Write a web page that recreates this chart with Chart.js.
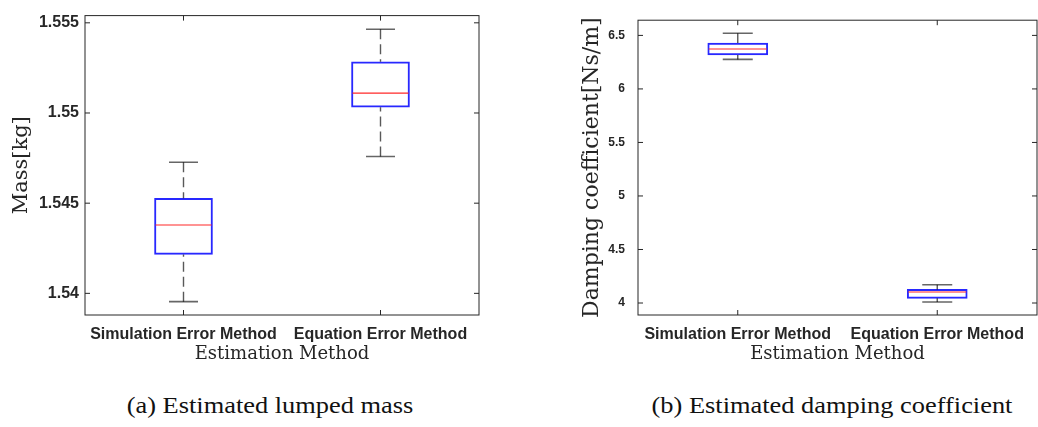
<!DOCTYPE html>
<html>
<head>
<meta charset="utf-8">
<script src="https://cdn.jsdelivr.net/npm/chart.js@4/dist/chart.umd.min.js"></script>
<style>
  html, body { margin: 0; padding: 0; background: #ffffff; }
  body { width: 1038px; height: 427px; position: relative; overflow: hidden; }
  .wrap { position: absolute; top: 0; height: 370px; }
  .cap { position: absolute; top: 393px; font-family: "Liberation Serif", "Times New Roman", serif; font-size: 24px; line-height: 24px; color: #111; white-space: nowrap; transform: translateX(-50%) scaleX(1.1); }
</style>
</head>
<body>
<div class="wrap" style="left:0; width:500px;"><canvas id="c1" width="500" height="370"></canvas></div>
<div class="wrap" style="left:520px; width:518px;"><canvas id="c2" width="518" height="370"></canvas></div>
<div class="cap" style="left:270px;">(a) Estimated lumped mass</div>
<div class="cap" style="left:832px;">(b) Estimated damping coefficient</div>
<script>
// ---- data ----
const categories = ['Simulation Error Method', 'Equation Error Method'];

const massMin    = [1.53954, 1.54759];
const massQ1     = [1.54216, 1.55032];
const massMedian = [1.54379, 1.55110];
const massQ3     = [1.54527, 1.55284];
const massMax    = [1.54727, 1.55464];
const massTicks  = [1.54, 1.545, 1.55, 1.555];

const dampMin    = [6.276, 4.009];
const dampQ1     = [6.317, 4.044];
const dampMedian = [6.373, 4.103];
const dampQ3     = [6.429, 4.127];
const dampMax    = [6.520, 4.171];
const dampTicks  = [4, 4.5, 5, 5.5, 6, 6.5];

// ---- helpers ----
const AXIS = '#262626';
const boxPlugin = {
  id: 'boxExtras',
  afterDatasetsDraw(chart, args, opts) {
    const ctx = chart.ctx, xs = chart.scales.x, ys = chart.scales.y;
    const half = opts.boxWidth / 2, capHalf = opts.boxWidth / 4;
    ctx.save();
    for (let i = 0; i < opts.median.length; i++) {
      const x = xs.getPixelForValue(i);
      const yMin = ys.getPixelForValue(opts.min[i]);
      const yQ1 = ys.getPixelForValue(opts.q1[i]);
      const yQ3 = ys.getPixelForValue(opts.q3[i]);
      const yMax = ys.getPixelForValue(opts.max[i]);
      const yMed = ys.getPixelForValue(opts.median[i]);
      // whiskers (dashed)
      ctx.strokeStyle = 'rgba(0,0,0,0.65)';
      ctx.lineWidth = 1.4;
      ctx.setLineDash([10, 5]);
      ctx.beginPath();
      ctx.moveTo(x, yMax); ctx.lineTo(x, yQ3);
      ctx.moveTo(x, yMin); ctx.lineTo(x, yQ1);
      ctx.stroke();
      ctx.setLineDash([]);
      // caps
      ctx.strokeStyle = 'rgba(0,0,0,0.6)';
      ctx.lineWidth = 1.6;
      ctx.beginPath();
      ctx.moveTo(x - capHalf, yMax); ctx.lineTo(x + capHalf, yMax);
      ctx.moveTo(x - capHalf, yMin); ctx.lineTo(x + capHalf, yMin);
      ctx.stroke();
      // median
      ctx.strokeStyle = 'rgb(255,40,40)';
      ctx.lineWidth = 1.2;
      ctx.beginPath();
      ctx.moveTo(x - half + 1, yMed); ctx.lineTo(x + half - 1, yMed);
      ctx.stroke();
    }
    ctx.restore();
  },
  afterDraw(chart) {
    const ctx = chart.ctx, a = chart.chartArea, xs = chart.scales.x, ys = chart.scales.y;
    const tl = 5;
    ctx.save();
    ctx.strokeStyle = AXIS;
    ctx.lineWidth = 1;
    ctx.strokeRect(a.left, a.top, a.right - a.left, a.bottom - a.top);
    ctx.beginPath();
    ys.ticks.forEach(t => {
      const y = ys.getPixelForValue(t.value);
      ctx.moveTo(a.left, y); ctx.lineTo(a.left + tl, y);
      ctx.moveTo(a.right, y); ctx.lineTo(a.right - tl, y);
    });
    xs.ticks.forEach((t, i) => {
      const x = xs.getPixelForTick(i);
      ctx.moveTo(x, a.bottom); ctx.lineTo(x, a.bottom - tl);
      ctx.moveTo(x, a.top); ctx.lineTo(x, a.top + tl);
    });
    ctx.stroke();
    ctx.restore();
  }
};

function makeChart(id, cfg) {
  return new Chart(document.getElementById(id), {
    type: 'bar',
    data: {
      labels: categories,
      datasets: [{
        data: categories.map((c, i) => [cfg.q1[i], cfg.q3[i]]),
        backgroundColor: 'rgba(0,0,0,0)',
        borderColor: 'rgb(40,40,255)',
        borderWidth: 1.3,
        borderSkipped: false,
        barThickness: cfg.boxWidth
      }]
    },
    options: {
      responsive: false,
      animation: false,
      events: [],
      layout: { padding: cfg.padding },
      plugins: {
        legend: { display: false },
        tooltip: { enabled: false },
        boxExtras: { min: cfg.min, q1: cfg.q1, median: cfg.median, q3: cfg.q3, max: cfg.max, boxWidth: cfg.boxWidth }
      },
      scales: {
        x: {
          offset: true,
          grid: { display: false, drawTicks: false },
          border: { display: false },
          ticks: { color: AXIS, padding: 10, maxRotation: 0, autoSkip: false,
                   font: { family: 'Liberation Sans', weight: 'bold', size: 16 } },
          title: { display: true, text: 'Estimation Method', color: AXIS,
                   font: { family: 'DejaVu Serif', size: 18 }, padding: { top: 0, bottom: 5 } },
          afterFit(s) { s.height = cfg.xHeight; }
        },
        y: {
          min: cfg.yMin, max: cfg.yMax,
          grid: { display: false, drawTicks: false },
          border: { display: false },
          afterBuildTicks(s) { s.ticks = cfg.ticks.map(v => ({ value: v })); },
          ticks: { color: AXIS, padding: cfg.tickPad,
                   font: { family: 'Liberation Sans', weight: 'bold', size: cfg.yTickSize },
                   callback: v => String(v) },
          title: { display: true, text: cfg.yTitle, color: AXIS,
                   font: { family: 'DejaVu Serif', size: cfg.yTitleSize }, padding: { top: cfg.yTitlePad, bottom: 0 } },
          afterFit(s) { s.width = cfg.yWidth; }
        }
      }
    },
    plugins: [boxPlugin]
  });
}

makeChart('c1', {
  min: massMin, q1: massQ1, median: massMedian, q3: massQ3, max: massMax,
  ticks: massTicks, yMin: 1.5388, yMax: 1.5554,
  boxWidth: 58, padding: { top: 3, right: 21, left: 0, bottom: 0 },
  xHeight: 55, yWidth: 85, tickPad: 6, yTickSize: 16,
  yTitle: 'Mass[kg]', yTitleSize: 21, yTitlePad: 9
});

makeChart('c2', {
  min: dampMin, q1: dampQ1, median: dampMedian, q3: dampQ3, max: dampMax,
  ticks: dampTicks, yMin: 3.888, yMax: 6.642,
  boxWidth: 60, padding: { top: 4, right: 1, left: 0, bottom: 0 },
  xHeight: 55, yWidth: 118, tickPad: 13, yTickSize: 12,
  yTitle: 'Damping coefficient[Ns/m]', yTitleSize: 22, yTitlePad: 59
});
</script>
</body>
</html>
